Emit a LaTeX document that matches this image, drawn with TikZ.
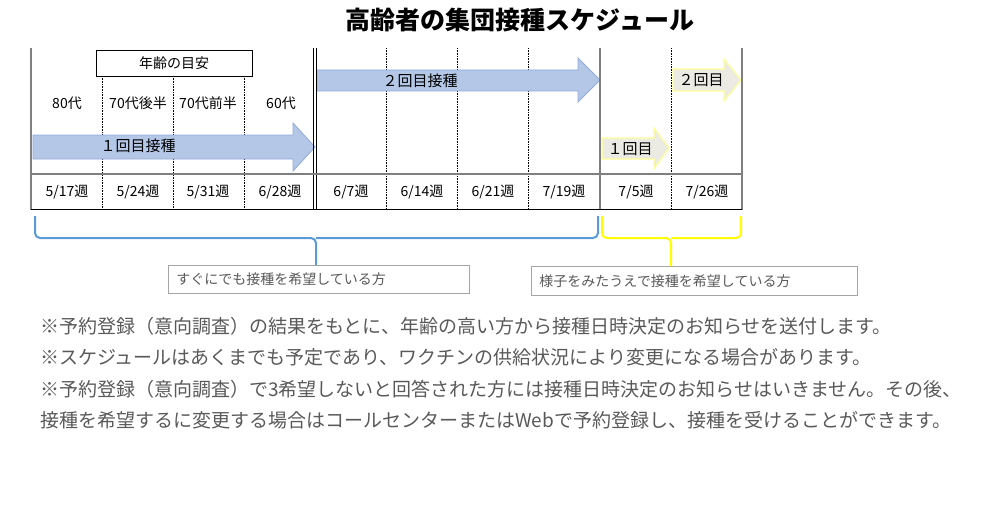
\documentclass[tikz,border=0pt]{standalone}
\usepackage{fontspec}
\setmainfont{Noto Sans CJK JP}
\usetikzlibrary{positioning}
\definecolor{gridgray}{HTML}{7F7F7F}
\definecolor{textgray}{HTML}{595959}
\definecolor{arrowblue}{HTML}{B4C7E7}
\definecolor{edgeblue}{HTML}{8FAADC}
\definecolor{braceblue}{HTML}{5B9BD5}
\definecolor{braceyellow}{HTML}{FFFF00}
\definecolor{arrowpale}{HTML}{EBEBE3}
\definecolor{edgeyellow}{HTML}{FFFF99}
\tikzset{
  % table frame lines
  frame/.style = {
    draw = gridgray,
    line width = 1.6pt
  },
  sep/.style = {
    draw = black,
    densely dotted,
    line width = 0.6pt
  },
  cell/.style = {
    font = \fontsize{14}{14}\selectfont,
    text = black,
    inner sep = 0
  },
  % block arrows
  blue arrow/.style = {
    fill = arrowblue,
    draw = edgeblue,
    line width = 0.8pt
  },
  pale arrow/.style = {
    fill = arrowpale,
    draw = edgeyellow,
    line width = 1.2pt
  },
  brace/.style = {
    line width = 2pt,
    rounded corners = 5pt
  },
  tag/.style = {
    draw = gridgray!70,
    line width = 0.8pt,
    text = textgray,
    font = \fontsize{14}{14}\selectfont,
    anchor = north west,
    inner sep = 0,
    align = left
  },
  note/.style = {
    text = textgray,
    font = \fontsize{19}{19}\selectfont,
    anchor = west,
    inner sep = 0
  }
}
\begin{document}
\begin{tikzpicture}[x=1pt, y=-1pt]
    \useasboundingbox (0,0) rectangle (1000,508);
    \node[font = \fontsize{25}{25}\selectfont\bfseries] (title) at (520,20) {高齢者の集団接種スケジュール};

    % age box
    \node[draw = black, line width = 0.8pt, minimum width = 156pt, minimum height = 26pt,
      inner sep = 0, font = \fontsize{14}{14}\selectfont] (age) at (174,63) {年齢の目安};

    % dotted separators
    \foreach \x in {102,173,244}
      \draw[sep] (\x,76) -- (\x,209);
    \foreach \x in {386,457,528,671}
      \draw[sep] (\x,48) -- (\x,209);

    % arrows
    \draw[blue arrow] (33,135) -- (293,135) -- (293,123) -- (315,147)
      -- (293,171) -- (293,159) -- (33,159) -- cycle;
    \draw[blue arrow] (317,70) -- (578,70) -- (578,58) -- (600,80)
      -- (578,102) -- (578,91) -- (317,91) -- cycle;
    \draw[pale arrow] (602,138) -- (654,138) -- (654,128) -- (669,148)
      -- (654,169) -- (654,159) -- (602,159) -- cycle;
    \draw[pale arrow] (673,69) -- (724,69) -- (724,59) -- (741,80)
      -- (724,101) -- (724,91) -- (673,91) -- cycle;
    \node[cell, font = \fontsize{15}{15}\selectfont] (dose1) at (138,146) {１回目接種};
    \node[cell, font = \fontsize{15}{15}\selectfont] (dose2) at (420,81) {２回目接種};
    \node[cell, font = \fontsize{15}{15}\selectfont] (late1) at (630,149) {１回目};
    \node[cell, font = \fontsize{15}{15}\selectfont] (late2) at (701,80) {２回目};

    % frame
    \draw[frame] (31,48) -- (31,210);
    \draw[frame] (600,48) -- (600,210);
    \draw[frame] (742,48) -- (742,210);
    \draw[line width = 0.7pt] (313.5,48) -- (313.5,209) (316.5,48) -- (316.5,209);
    \draw[frame] (31,174) -- (742,174);
    \draw[line width = 1pt] (31,209) -- (742,209);

    % ages and weeks
    \foreach \x/\t in {67/80代,138/70代後半,208/70代前半,281/60代}
      \node[cell] at (\x,103) {\t};
    \foreach \x/\t in {67/5\slash 17週,138/5\slash 24週,208/5\slash 31週,280/6\slash 28週,
      351/6\slash 7週,422/6\slash 14週,493/6\slash 21週,564/7\slash 19週,
      636/7\slash 5週,707/7\slash 26週}
      \node[cell] at (\x,192) {\t};

    % braces and tags
    \node[tag, minimum width = 301pt, minimum height = 28pt, text width = 285pt,
      inner xsep = 8pt] (now) at (168,265) {すぐにでも接種を希望している方};
    \node[tag, minimum width = 326pt, minimum height = 29pt, text width = 310pt,
      inner xsep = 8pt] (wait) at (531,266) {様子をみたうえで接種を希望している方};
    \draw[brace, braceblue] (35,216) |- (316,238) -- (now.north -| 316,0)
      (316,238) -| (598,216);
    \draw[brace, braceyellow] (602,216) |- (671,238) -- (wait.north -| 671,0)
      (671,238) -| (741,216);

    % notes
    \node[note] (n1) at (40,326) {※予約登録（意向調査）の結果をもとに、年齢の高い方から接種日時決定のお知らせを送付します。};
    \node[note] (n2) at (40,357) {※スケジュールはあくまでも予定であり、ワクチンの供給状況により変更になる場合があります。};
    \node[note] (n3) at (40,389) {※予約登録（意向調査）で3希望しないと回答された方には接種日時決定のお知らせはいきません。その後、};
    \node[note] (n4) at (40,420) {接種を希望するに変更する場合はコールセンターまたはWebで予約登録し、接種を受けることができます。};
\end{tikzpicture}
\end{document}
